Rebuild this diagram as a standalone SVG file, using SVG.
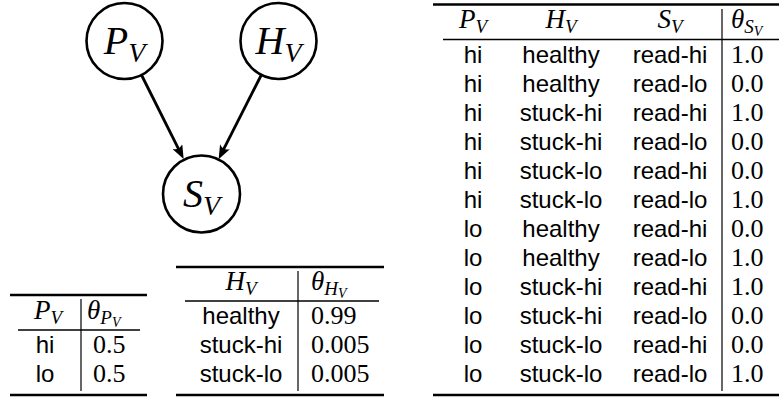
<svg xmlns="http://www.w3.org/2000/svg" width="779" height="400" viewBox="0 0 779 400">
<style>
.heavy{stroke:#000;stroke-width:2.6}
.light{stroke:#000;stroke-width:1.4}
.vline{stroke:#000;stroke-width:1.2}
.sf{font-family:"Liberation Sans",Arial,sans-serif;font-size:24px;fill:#000}
.mi{font-family:"Liberation Serif","Times New Roman",serif;font-style:italic;font-size:27px;fill:#000}
.rm{font-family:"Liberation Serif","Times New Roman",serif;font-size:26px;fill:#000}
.node circle{fill:#fff;stroke:#000;stroke-width:2.6}
.node text{font-family:"Liberation Serif","Times New Roman",serif;font-style:italic;font-size:40px;fill:#000}
.edge{stroke:#000;stroke-width:2.8;fill:none}
.c{text-anchor:middle}
</style>
<defs>
<marker id="arr" viewBox="0 0 14 11" refX="7" refY="5.5" markerWidth="14" markerHeight="11" markerUnits="userSpaceOnUse" orient="auto">
<path d="M0,0 Q4.5,5.5 0,11 L14,5.5 Z" fill="#000"/>
</marker>
</defs>

<g id="connectors">
<line class="edge" x1="141.5" y1="75" x2="180.5" y2="152.8" marker-end="url(#arr)"/>
<line class="edge" x1="261.3" y1="75" x2="221.8" y2="152.9" marker-end="url(#arr)"/>
</g>

<g id="node-PV" class="node">
<circle cx="124.5" cy="41" r="38"/>
<text x="124.5" y="54" text-anchor="middle">P<tspan font-size="28" dy="8">V</tspan></text>
</g>
<g id="node-HV" class="node">
<circle cx="278.5" cy="41" r="38"/>
<text x="278.5" y="54" text-anchor="middle">H<tspan font-size="28" dy="8">V</tspan></text>
</g>
<g id="node-SV" class="node">
<circle cx="201.5" cy="194" r="38.5"/>
<text x="201.5" y="207" text-anchor="middle">S<tspan font-size="28" dy="8">V</tspan></text>
</g>

<g id="table-PV">
<line class="heavy" x1="10" y1="295" x2="147" y2="295"/>
<line class="light" x1="18" y1="330" x2="140" y2="330"/>
<line class="heavy" x1="10" y1="395" x2="147" y2="395"/>
<line class="vline" x1="81" y1="299" x2="81" y2="391"/>
<text class="mi c" x="48" y="319">P<tspan font-size="19" dy="5">V</tspan></text>
<text class="mi" x="87" y="319">θ<tspan font-size="19" dy="5">P</tspan><tspan font-size="14" dy="3">V</tspan></text>
<text class="sf c" x="45" y="353">hi</text>
<text class="sf c" x="45" y="382">lo</text>
<text class="rm" x="93" y="353">0.5</text>
<text class="rm" x="93" y="382">0.5</text>
</g>

<g id="table-HV">
<line class="heavy" x1="176" y1="267" x2="384" y2="267"/>
<line class="light" x1="185" y1="301" x2="379" y2="301"/>
<line class="heavy" x1="176" y1="395" x2="384" y2="395"/>
<line class="vline" x1="298" y1="271" x2="298" y2="391"/>
<text class="mi c" x="241" y="290">H<tspan font-size="19" dy="5">V</tspan></text>
<text class="mi" x="311" y="290">θ<tspan font-size="19" dy="5">H</tspan><tspan font-size="14" dy="3">V</tspan></text>
<text class="sf c" x="241" y="324">healthy</text>
<text class="sf c" x="241" y="353">stuck-hi</text>
<text class="sf c" x="241" y="382">stuck-lo</text>
<text class="rm" x="311" y="324">0.99</text>
<text class="rm" x="311" y="353">0.005</text>
<text class="rm" x="311" y="382">0.005</text>
</g>

<g id="table-SV">
<line class="heavy" x1="433" y1="4.5" x2="779" y2="4.5"/>
<line class="light" x1="443" y1="39.5" x2="779" y2="39.5"/>
<line class="heavy" x1="433" y1="395" x2="779" y2="395"/>
<line class="vline" x1="722" y1="9" x2="722" y2="391"/>
<text class="mi c" x="473" y="28">P<tspan font-size="19" dy="5">V</tspan></text>
<text class="mi c" x="561" y="28">H<tspan font-size="19" dy="5">V</tspan></text>
<text class="mi c" x="670" y="28">S<tspan font-size="19" dy="5">V</tspan></text>
<text class="mi" x="731" y="28">θ<tspan font-size="19" dy="5">S</tspan><tspan font-size="14" dy="3">V</tspan></text>
<g class="sf c">
<text x="473" y="63">hi</text><text x="561" y="63">healthy</text><text x="670" y="63">read-hi</text>
<text x="473" y="92">hi</text><text x="561" y="92">healthy</text><text x="670" y="92">read-lo</text>
<text x="473" y="121">hi</text><text x="561" y="121">stuck-hi</text><text x="670" y="121">read-hi</text>
<text x="473" y="150">hi</text><text x="561" y="150">stuck-hi</text><text x="670" y="150">read-lo</text>
<text x="473" y="179">hi</text><text x="561" y="179">stuck-lo</text><text x="670" y="179">read-hi</text>
<text x="473" y="208">hi</text><text x="561" y="208">stuck-lo</text><text x="670" y="208">read-lo</text>
<text x="473" y="237">lo</text><text x="561" y="237">healthy</text><text x="670" y="237">read-hi</text>
<text x="473" y="266">lo</text><text x="561" y="266">healthy</text><text x="670" y="266">read-lo</text>
<text x="473" y="295">lo</text><text x="561" y="295">stuck-hi</text><text x="670" y="295">read-hi</text>
<text x="473" y="324">lo</text><text x="561" y="324">stuck-hi</text><text x="670" y="324">read-lo</text>
<text x="473" y="353">lo</text><text x="561" y="353">stuck-lo</text><text x="670" y="353">read-hi</text>
<text x="473" y="382">lo</text><text x="561" y="382">stuck-lo</text><text x="670" y="382">read-lo</text>
</g>
<g class="rm">
<text x="731" y="63">1.0</text>
<text x="731" y="92">0.0</text>
<text x="731" y="121">1.0</text>
<text x="731" y="150">0.0</text>
<text x="731" y="179">0.0</text>
<text x="731" y="208">1.0</text>
<text x="731" y="237">0.0</text>
<text x="731" y="266">1.0</text>
<text x="731" y="295">1.0</text>
<text x="731" y="324">0.0</text>
<text x="731" y="353">0.0</text>
<text x="731" y="382">1.0</text>
</g>
</g>
</svg>
